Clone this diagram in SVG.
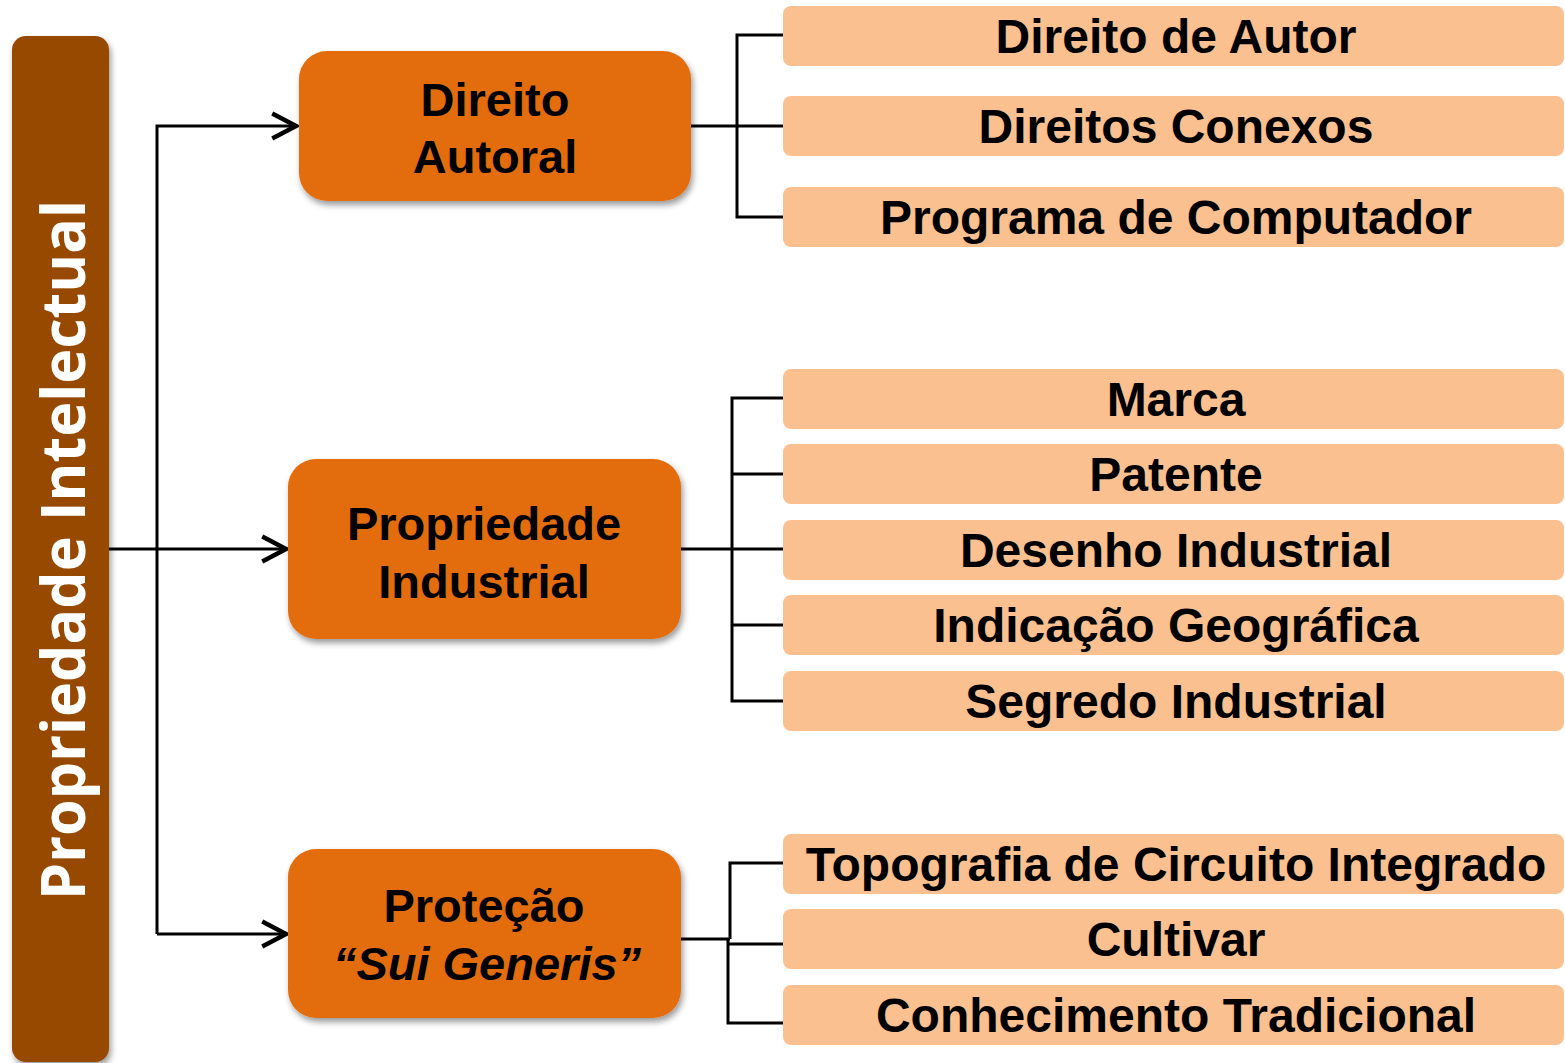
<svg xmlns="http://www.w3.org/2000/svg" width="1565" height="1063" viewBox="0 0 1565 1063">
<style>
.main{fill:#E36C0A;filter:url(#sh)}
.leaf{fill:#FAC090}
.t{font-family:"Liberation Sans",Arial,sans-serif;font-weight:bold;font-size:47px;fill:#000;text-anchor:middle}
.lt{font-family:"Liberation Sans",Arial,sans-serif;font-weight:bold;font-size:48px;fill:#000;text-anchor:middle}
.c{fill:none;stroke:#000;stroke-width:3}
</style>
<defs>
<filter id="sh" x="-10%" y="-10%" width="130%" height="130%">
<feGaussianBlur in="SourceAlpha" stdDeviation="3"/>
<feOffset dx="2" dy="4" result="b"/>
<feComponentTransfer><feFuncA type="linear" slope="0.4"/></feComponentTransfer>
<feMerge><feMergeNode/><feMergeNode in="SourceGraphic"/></feMerge>
</filter>
<marker id="arr" markerUnits="userSpaceOnUse" markerWidth="30" markerHeight="30" viewBox="-22 -12 24 24" refX="0" refY="0" orient="auto">
<path d="M-19,-10 L0,0 L-19,10" fill="none" stroke="#000" stroke-width="3.5"/>
</marker>
</defs>

<g id="root">
<rect x="12" y="36" width="97" height="1026" rx="14" fill="#974806" filter="url(#sh)"/>
<text transform="translate(85,550) rotate(-90)" font-family="'Open Sans',sans-serif" font-weight="bold" font-size="61" fill="#fff" text-anchor="middle" textLength="700" lengthAdjust="spacingAndGlyphs">Propriedade Intelectual</text>
</g>

<g id="connectors">
<path class="c" d="M157,934 V126 H296" marker-end="url(#arr)"/>
<path class="c" d="M109,549 H286" marker-end="url(#arr)"/>
<path class="c" d="M157,934 H286" marker-end="url(#arr)"/>
<path class="c" d="M691,126 H783"/>
<path class="c" d="M783,35 H737 V217 H783"/>
<path class="c" d="M681,549 H783"/>
<path class="c" d="M783,398 H732 V701 H783"/>
<path class="c" d="M732,474 H783 M732,625 H783"/>
<path class="c" d="M679,939 H730"/>
<path class="c" d="M783,863 H730 V939"/>
<path class="c" d="M728,939 V1023 H783"/>
<path class="c" d="M728,944 H783"/>
</g>

<g id="direito-autoral">
<rect class="main" x="299" y="51" width="392" height="150" rx="28"/>
<text class="t" x="495" y="116">Direito</text>
<text class="t" x="495" y="173">Autoral</text>
</g>
<g id="propriedade-industrial">
<rect class="main" x="288" y="459" width="393" height="180" rx="28"/>
<text class="t" x="484" y="540">Propriedade</text>
<text class="t" x="484" y="598">Industrial</text>
</g>
<g id="protecao-sui-generis">
<rect class="main" x="288" y="849" width="393" height="169" rx="28"/>
<text class="t" x="484" y="922">Proteção</text>
<text class="t" x="487" y="980" font-style="italic">“Sui Generis”</text>
</g>

<g id="direito-de-autor"><rect class="leaf" x="783" y="6" width="781" height="60" rx="8"/><text class="lt" x="1176" y="53">Direito de Autor</text></g>
<g id="direitos-conexos"><rect class="leaf" x="783" y="96" width="781" height="60" rx="8"/><text class="lt" x="1176" y="143">Direitos Conexos</text></g>
<g id="programa-de-computador"><rect class="leaf" x="783" y="187" width="781" height="60" rx="8"/><text class="lt" x="1176" y="234">Programa de Computador</text></g>
<g id="marca"><rect class="leaf" x="783" y="369" width="781" height="60" rx="8"/><text class="lt" x="1176" y="416">Marca</text></g>
<g id="patente"><rect class="leaf" x="783" y="444" width="781" height="60" rx="8"/><text class="lt" x="1176" y="491">Patente</text></g>
<g id="desenho-industrial"><rect class="leaf" x="783" y="520" width="781" height="60" rx="8"/><text class="lt" x="1176" y="567">Desenho Industrial</text></g>
<g id="indicacao-geografica"><rect class="leaf" x="783" y="595" width="781" height="60" rx="8"/><text class="lt" x="1176" y="642">Indicação Geográfica</text></g>
<g id="segredo-industrial"><rect class="leaf" x="783" y="671" width="781" height="60" rx="8"/><text class="lt" x="1176" y="718">Segredo Industrial</text></g>
<g id="topografia"><rect class="leaf" x="783" y="834" width="781" height="60" rx="8"/><text class="lt" x="1176" y="881">Topografia de Circuito Integrado</text></g>
<g id="cultivar"><rect class="leaf" x="783" y="909" width="781" height="60" rx="8"/><text class="lt" x="1176" y="956">Cultivar</text></g>
<g id="conhecimento-tradicional"><rect class="leaf" x="783" y="985" width="781" height="60" rx="8"/><text class="lt" x="1176" y="1032">Conhecimento Tradicional</text></g>
</svg>
